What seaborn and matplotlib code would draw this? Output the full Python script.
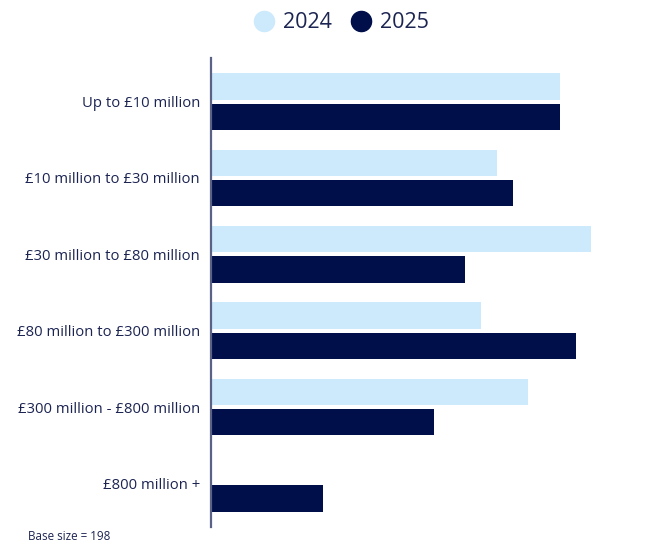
import matplotlib
matplotlib.use("Agg")
import matplotlib.pyplot as plt
from matplotlib.lines import Line2D
import seaborn as sns
import pandas as pd

# Company turnover bands and share values per survey year
bands = [
    "Up to £10 million",
    "£10 million to £30 million",
    "£30 million to £80 million",
    "£80 million to £300 million",
    "£300 million - £800 million",
    "£800 million +",
]
values_2024 = [34.9, 28.6, 38.0, 27.0, 31.7, 0.0]
values_2025 = [34.9, 30.2, 25.4, 36.5, 22.3, 11.2]
years = ["2024", "2025"]

LIGHT = "#cdeafd"
DARK = "#000f4a"
TEXT = "#1c2452"
AXIS = "#5b6285"

df = pd.DataFrame({
    "band": bands * 2,
    "value": values_2024 + values_2025,
    "year": [years[0]] * len(bands) + [years[1]] * len(bands),
})

sns.set_theme(style="white")
plt.rcParams["font.family"] = ["Open Sans", "DejaVu Sans"]

fig = plt.figure(figsize=(6.49, 5.47), dpi=100)
ax = fig.add_axes([211 / 649, 1 - 527 / 547, 409 / 649, 469 / 547])

sns.barplot(
    data=df, y="band", x="value", hue="year", order=bands, hue_order=years,
    palette=[LIGHT, DARK], orient="h", width=0.79, gap=0.13,
    saturation=1, linewidth=0, legend=False, ax=ax,
)

ax.set_xlim(0, 40.9)
ax.set_ylim(5.57, -0.57)
ax.set_xlabel("")
ax.set_ylabel("")
ax.set_xticks([])
ax.tick_params(axis="y", length=0, pad=8, labelsize=10.75, labelcolor=TEXT)
for side in ["top", "right", "bottom"]:
    ax.spines[side].set_visible(False)
ax.spines["left"].set_color(AXIS)
ax.spines["left"].set_linewidth(1.6)

handles = [
    Line2D([0], [0], marker="o", linestyle="", markersize=14.5,
           markerfacecolor=c, markeredgecolor=c)
    for c in (LIGHT, DARK)
]
leg = fig.legend(
    handles, years, loc="center", bbox_to_anchor=(0.524, 1 - 23 / 547),
    ncol=2, frameon=False, fontsize=15.5, handletextpad=0.3,
    columnspacing=0.75, handlelength=1.2,
)
for t in leg.get_texts():
    t.set_color(TEXT)

fig.text(28 / 649, 1 - 537 / 547, "Base size = 198", fontsize=8.4,
         color=TEXT, ha="left", va="center")

fig.savefig("out.png", dpi=100)
